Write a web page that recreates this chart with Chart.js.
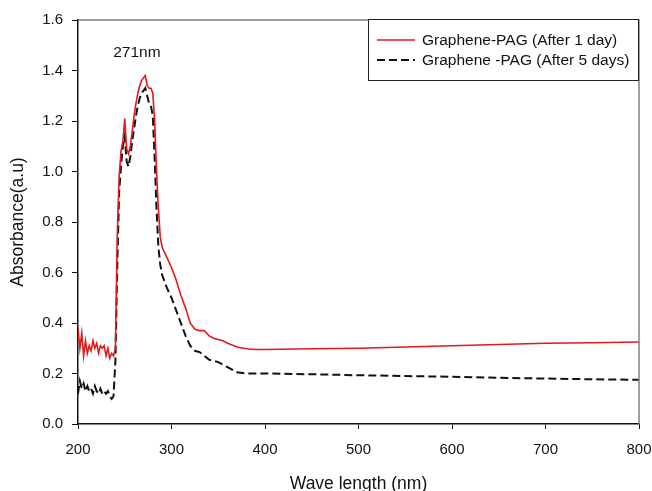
<!DOCTYPE html>
<html>
<head>
<meta charset="utf-8">
<script src="https://cdn.jsdelivr.net/npm/chart.js@4/dist/chart.umd.min.js"></script>
<style>
   html, body { margin: 0; padding: 0; background: #fff; }
   #wrap { width: 652px; height: 491px; }
</style>
</head>
<body>
<div id="wrap"><canvas id="chart" width="652" height="491"></canvas></div>
<script>
'use strict';

const wavelengths = [
   200, 202, 204, 206, 208, 210, 212, 214, 216, 218, 220, 222, 224, 226, 228, 230, 232, 234, 236, 238, 240,
   242, 244, 246, 248, 250, 252, 254, 256, 258, 260, 262, 264, 266, 268, 270, 272, 274, 276, 278, 280, 282, 284, 286, 288, 290,
   295, 300, 305, 310, 315, 320, 325, 330, 335, 340, 345, 350, 355, 360,
   370, 380, 390, 400, 450, 500, 550, 600, 650, 700, 750, 800
];

const after1Day = [
   0.38, 0.30, 0.36, 0.27, 0.33, 0.28, 0.31, 0.29, 0.33, 0.30, 0.32, 0.28, 0.31, 0.30, 0.31, 0.27, 0.30, 0.26, 0.28, 0.27, 0.30,
   0.75, 0.98, 1.08, 1.12, 1.21, 1.09, 1.07, 1.10, 1.16, 1.22, 1.27, 1.31, 1.34, 1.36, 1.37, 1.38, 1.34, 1.33, 1.33, 1.31, 1.20, 1.00, 0.85, 0.74, 0.70,
   0.66, 0.62, 0.57, 0.51, 0.46, 0.40, 0.375, 0.37, 0.37, 0.35, 0.34, 0.335, 0.33, 0.32,
   0.305, 0.298, 0.295, 0.295, 0.298, 0.30, 0.305, 0.31, 0.315, 0.32, 0.322, 0.325
];

const after5Days = [
   0.12, 0.17, 0.14, 0.16, 0.13, 0.15, 0.13, 0.14, 0.12, 0.15, 0.13, 0.12, 0.14, 0.12, 0.13, 0.12, 0.13, 0.11, 0.10, 0.11, 0.25,
   0.62, 0.92, 1.02, 1.10, 1.14, 1.04, 1.02, 1.06, 1.12, 1.17, 1.22, 1.26, 1.29, 1.31, 1.32, 1.33, 1.30, 1.27, 1.26, 1.22, 1.05, 0.85, 0.70, 0.63, 0.59,
   0.54, 0.50, 0.45, 0.40, 0.35, 0.31, 0.29, 0.285, 0.27, 0.255, 0.25, 0.245, 0.235, 0.225,
   0.205, 0.20, 0.20, 0.20, 0.197, 0.193, 0.19, 0.187, 0.183, 0.18, 0.177, 0.175
];

const seriesNames = ['Graphene-PAG (After 1 day)', 'Graphene -PAG (After 5 days)'];
const peakLabel = { text: '271nm', x: 263, y: 1.47 };

const FONT = '"Liberation Sans", Arial, sans-serif';

function toPoints(xs, ys) {
   const res = [];
   for (let i = 0; i < xs.length; i++) {
      res.push({ x: xs[i], y: ys[i] });
   }
   return res;
}

// top / right frame, peak label and the boxed legend
const decorations = {
   id: 'decorations',
   afterDraw(chart) {
      const ctx = chart.ctx;
      const area = chart.chartArea;
      const xs = chart.scales.x;
      const ys = chart.scales.y;
      ctx.save();

      ctx.strokeStyle = '#808080';
      ctx.lineWidth = 1.5;
      ctx.beginPath();
      ctx.moveTo(area.left, area.top);
      ctx.lineTo(area.right, area.top);
      ctx.lineTo(area.right, area.bottom);
      ctx.stroke();

      ctx.fillStyle = '#111';
      ctx.font = '15.5px ' + FONT;
      ctx.textAlign = 'center';
      ctx.textBaseline = 'middle';
      ctx.fillText(peakLabel.text, xs.getPixelForValue(peakLabel.x), ys.getPixelForValue(peakLabel.y));

      // legend box
      const bx = 368, by = area.top - 1, bw = area.right - 1 - bx, bh = 61;
      ctx.fillStyle = '#fff';
      ctx.fillRect(bx, by, bw, bh);
      ctx.strokeStyle = '#222';
      ctx.lineWidth = 1;
      ctx.strokeRect(bx + 0.5, by + 0.5, bw, bh);

      ctx.font = '15.5px ' + FONT;
      ctx.textAlign = 'left';
      chart.data.datasets.forEach(function (ds, i) {
         const ry = by + 21 + i * 20;
         ctx.strokeStyle = ds.borderColor;
         ctx.lineWidth = ds.borderWidth;
         ctx.setLineDash(ds.borderDash || []);
         ctx.beginPath();
         ctx.moveTo(377, ry);
         ctx.lineTo(415, ry);
         ctx.stroke();
         ctx.setLineDash([]);
         ctx.fillStyle = '#111';
         ctx.fillText(ds.label, 422, ry + 1);
      });
      ctx.restore();
   }
};

new Chart(document.getElementById('chart'), {
   type: 'line',
   data: {
      datasets: [{
         label: seriesNames[0],
         data: toPoints(wavelengths, after1Day),
         borderColor: '#e3191b',
         borderWidth: 1.6,
         pointRadius: 0,
         tension: 0,
         fill: false
      }, {
         label: seriesNames[1],
         data: toPoints(wavelengths, after5Days),
         borderColor: '#111',
         borderWidth: 2,
         borderDash: [8, 4],
         pointRadius: 0,
         tension: 0,
         fill: false
      }]
   },
   options: {
      responsive: false,
      animation: false,
      layout: {
         padding: { left: 0, right: 13, top: 20, bottom: 0 }
      },
      scales: {
         x: {
            type: 'linear',
            min: 200,
            max: 800,
            afterFit: function (scale) {
               scale.height = 67;
               scale.paddingRight = 0;
            },
            ticks: {
               stepSize: 100,
               color: '#111',
               padding: 12,
               font: { family: FONT, size: 15 }
            },
            grid: {
               display: true,
               drawOnChartArea: false,
               drawTicks: true,
               tickLength: 5,
               color: '#111'
            },
            border: { color: '#111', width: 1.5 },
            title: {
               display: true,
               text: 'Wave length (nm)',
               color: '#111',
               font: { family: FONT, size: 17.5 },
               padding: { top: -4, bottom: -4 }
            }
         },
         y: {
            min: 0,
            max: 1.6,
            afterFit: function (scale) { scale.width = 78; },
            ticks: {
               stepSize: 0.2,
               color: '#111',
               padding: 9,
               font: { family: FONT, size: 15 },
               callback: function (v) { return v.toFixed(1); }
            },
            grid: {
               display: true,
               drawOnChartArea: false,
               drawTicks: true,
               tickLength: 6,
               color: '#111'
            },
            border: { color: '#111', width: 1.5 },
            title: {
               display: true,
               text: 'Absorbance(a.u)',
               color: '#111',
               font: { family: FONT, size: 17.5 },
               padding: { top: 8, bottom: 0 }
            }
         }
      },
      plugins: {
         legend: { display: false },
         tooltip: { enabled: false }
      }
   },
   plugins: [decorations]
});
</script>
</body>
</html>
